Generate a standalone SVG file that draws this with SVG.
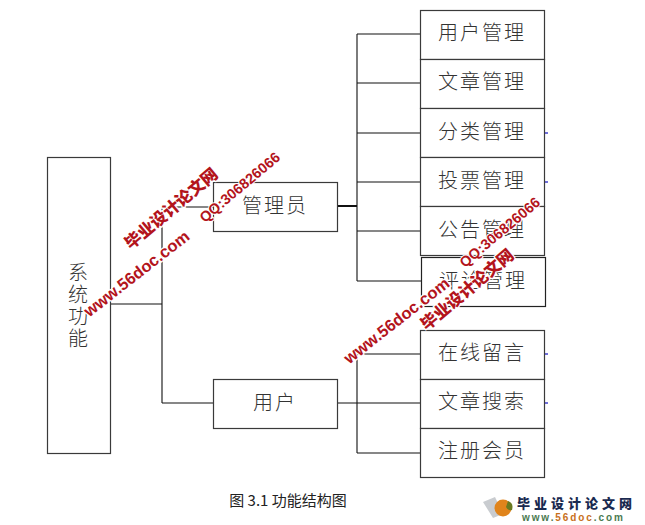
<svg xmlns="http://www.w3.org/2000/svg" width="645" height="525" viewBox="0 0 645 525">
<style>
.box{fill:#fff;stroke:#3a3a3a;stroke-width:1.2}
.c{fill:none;stroke:#111;stroke-width:1.1}
.t{font-family:"Noto Sans CJK SC","Liberation Sans",sans-serif;font-size:20px;font-weight:300;fill:#333;text-anchor:middle;letter-spacing:2px}
.cap{font-family:"Noto Sans CJK SC","Liberation Sans",sans-serif;font-size:15px;fill:#222;text-anchor:middle}
.wc{font-family:"Noto Sans CJK SC",sans-serif;font-weight:900;font-size:16.500px;fill:#b3141c;text-anchor:middle;stroke:#fff;stroke-width:2.5px;paint-order:stroke}
.we{font-family:"Liberation Sans",sans-serif;font-weight:700;font-size:16.500px;fill:#b3141c;text-anchor:middle;stroke:#fff;stroke-width:2.5px;paint-order:stroke}
.wq{font-family:"Liberation Sans",sans-serif;font-weight:700;font-size:14.500px;fill:#b3141c;text-anchor:middle;stroke:#fff;stroke-width:2px;paint-order:stroke}
.tick{stroke:#4040d0;stroke-width:1.4}
</style>
<rect width="645" height="525" fill="#fff"/>
<g id="connectors">
<path class="c" d="M110 304H162M162 207V403M162 207H213M162 403H213"/>
<path class="c" style="stroke-width:2" d="M337 206H357"/>
<path class="c" d="M357 34V281M357 34H420M357 83H420M357 133H420M357 182H420M357 231H420M357 281H421"/>
<path class="c" d="M337 403H357M357 354V453M357 354H420M357 403H420M357 453H420"/>
<path class="tick" d="M544 133H548M544 182H548M544 354H548M544 403H548"/>
</g>
<g id="node-system"><rect class="box" x="47.500" y="157.500" width="63" height="296"/>
<text class="t" x="78" y="280" style="letter-spacing:0">系<tspan x="78" dy="22">统</tspan><tspan x="78" dy="22">功</tspan><tspan x="78" dy="22">能</tspan></text></g>
<g id="node-admin"><rect class="box" x="213.500" y="182.500" width="124" height="49"/><text class="t" x="275" y="213">管理员</text></g>
<g id="node-user"><rect class="box" x="213.500" y="379.500" width="124" height="49"/><text class="t" x="275" y="410">用户</text></g>
<g id="node-m1"><rect class="box" x="420.500" y="10.500" width="124" height="49"/><text class="t" x="482" y="40">用户管理</text></g>
<g id="node-m2"><rect class="box" x="420.500" y="59.500" width="124" height="49"/><text class="t" x="482" y="89">文章管理</text></g>
<g id="node-m3"><rect class="box" x="420.500" y="108.500" width="124" height="49"/><text class="t" x="482" y="139">分类管理</text></g>
<g id="node-m4"><rect class="box" x="420.500" y="157.500" width="124" height="49"/><text class="t" x="482" y="188">投票管理</text></g>
<g id="node-m5"><rect class="box" x="420.500" y="206.500" width="124" height="49"/><text class="t" x="482" y="237">公告管理</text></g>
<g id="node-m6"><rect class="box" x="421.500" y="257.500" width="124" height="49" style="stroke:#222"/><text class="t" x="483" y="288">评论管理</text></g>
<g id="node-u1"><rect class="box" x="420.500" y="330.500" width="124" height="49"/><text class="t" x="482" y="360">在线留言</text></g>
<g id="node-u2"><rect class="box" x="420.500" y="379.500" width="124" height="49"/><text class="t" x="482" y="409">文章搜索</text></g>
<g id="node-u3"><rect class="box" x="420.500" y="428.500" width="124" height="49"/><text class="t" x="482" y="458">注册会员</text></g>
<text class="cap" x="288" y="506">图 3.1 功能结构图</text>
<g id="watermarks">
<text class="wc" transform="translate(175 213) rotate(-40)">毕业设计论文网</text>
<text class="we" transform="translate(140 278) rotate(-38)">www.56doc.com</text>
<text class="wq" transform="translate(243 191) rotate(-40)">QQ:306826066</text>
<text class="wc" transform="translate(471 294) rotate(-40)">毕业设计论文网</text>
<text class="we" transform="translate(400 325) rotate(-38)">www.56doc.com</text>
<text class="wq" transform="translate(503 236) rotate(-40)">QQ:306826066</text>
</g>
<g id="logo">
<path d="M483 502l12-5 8 17-10 4z" fill="#c9ccd0"/>
<circle cx="503" cy="508" r="8.500" fill="#e0841c"/>
<path d="M508 501q6 2 4 9q-4 1-6-3z" fill="#6a7a20"/>
<text x="517" y="508" style="font-family:'Noto Sans CJK SC',sans-serif;font-weight:900;font-size:13px;letter-spacing:4px;fill:#1a2a50">毕业设计论文网</text>
<text x="522" y="521" style="font-family:'Liberation Sans',sans-serif;font-weight:700;font-size:10px;letter-spacing:1.900px;fill:#4a7a50">www.<tspan fill="#c8701c">56doc</tspan>.com</text>
</g>
</svg>
